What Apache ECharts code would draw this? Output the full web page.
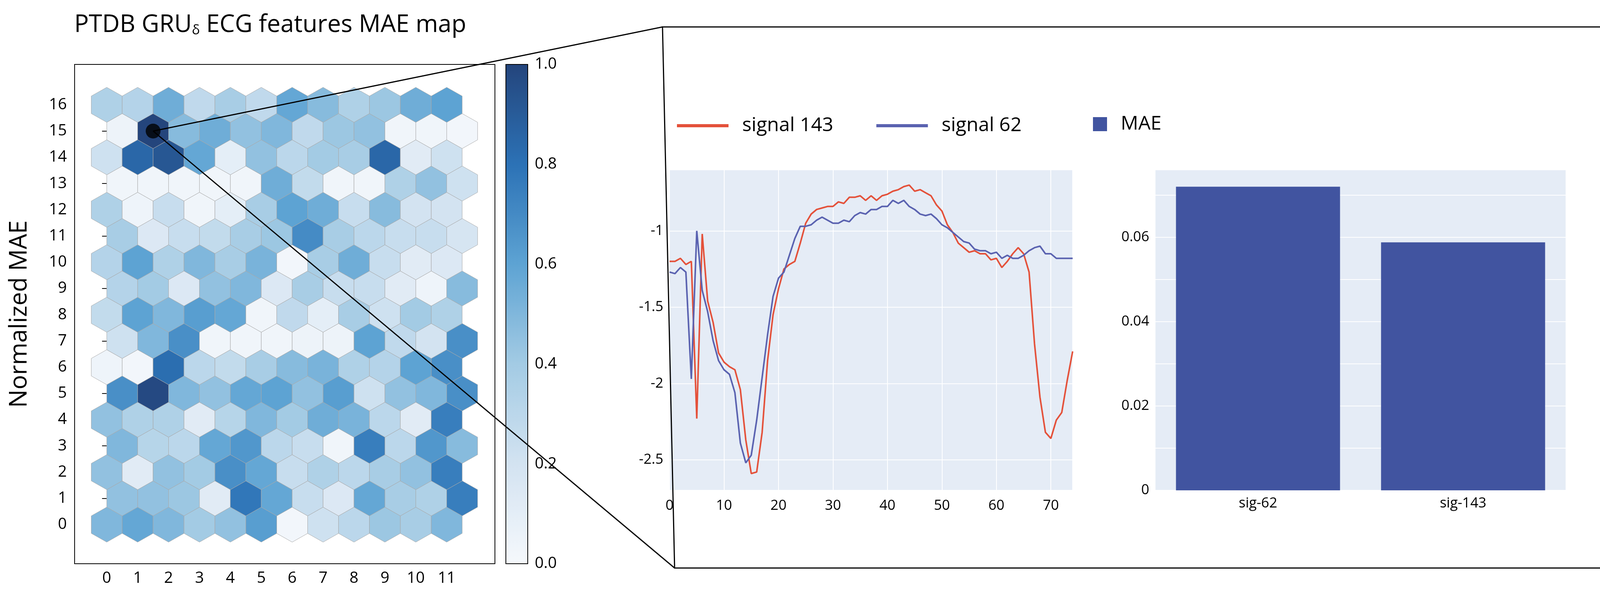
<!DOCTYPE html>
<html lang="en">
<head>
<meta charset="UTF-8">
<title>PTDB GRU ECG features MAE map</title>
<script src="https://cdn.jsdelivr.net/npm/echarts@6/dist/echarts.min.js"></script>
<style>
  html, body { margin: 0; padding: 0; background: #fff; }
  #chart { width: 4168px; height: 1519px; }
</style>
</head>
<body>
<div id="chart"></div>
<script>
// hex map values, one row per y (row 0 first), 12 columns; odd rows are shifted by half a cell
const hexRows = [
  [0.50, 0.58, 0.50, 0.40, 0.45, 0.62, 0.02, 0.22, 0.30, 0.42, 0.38, 0.50],
  [0.45, 0.45, 0.42, 0.12, 0.78, 0.58, 0.25, 0.15, 0.58, 0.38, 0.35, 0.75],
  [0.45, 0.12, 0.45, 0.40, 0.68, 0.58, 0.25, 0.35, 0.30, 0.38, 0.45, 0.75],
  [0.50, 0.32, 0.30, 0.58, 0.65, 0.30, 0.25, 0.03, 0.75, 0.30, 0.65, 0.48],
  [0.45, 0.35, 0.35, 0.12, 0.32, 0.50, 0.40, 0.55, 0.52, 0.30, 0.12, 0.75],
  [0.68, 0.98, 0.50, 0.45, 0.58, 0.60, 0.45, 0.62, 0.22, 0.45, 0.50, 0.68],
  [0.04, 0.02, 0.82, 0.30, 0.27, 0.38, 0.48, 0.52, 0.35, 0.33, 0.60, 0.68],
  [0.22, 0.50, 0.68, 0.03, 0.03, 0.03, 0.05, 0.05, 0.60, 0.28, 0.20, 0.68],
  [0.27, 0.60, 0.50, 0.62, 0.58, 0.03, 0.28, 0.10, 0.38, 0.22, 0.40, 0.35],
  [0.33, 0.40, 0.15, 0.45, 0.50, 0.15, 0.38, 0.25, 0.25, 0.12, 0.04, 0.48],
  [0.33, 0.60, 0.35, 0.50, 0.38, 0.52, 0.02, 0.38, 0.55, 0.25, 0.12, 0.15],
  [0.38, 0.15, 0.25, 0.27, 0.38, 0.42, 0.70, 0.38, 0.30, 0.25, 0.25, 0.18],
  [0.35, 0.04, 0.25, 0.03, 0.10, 0.38, 0.60, 0.55, 0.25, 0.48, 0.20, 0.20],
  [0.03, 0.03, 0.03, 0.03, 0.03, 0.55, 0.27, 0.03, 0.03, 0.35, 0.45, 0.22],
  [0.22, 0.85, 0.92, 0.58, 0.10, 0.45, 0.30, 0.40, 0.38, 0.85, 0.12, 0.22],
  [0.05, 1.00, 0.48, 0.55, 0.45, 0.50, 0.28, 0.42, 0.45, 0.03, 0.03, 0.02],
  [0.35, 0.33, 0.55, 0.28, 0.38, 0.28, 0.58, 0.48, 0.35, 0.42, 0.55, 0.60]
];
const selectedCell = [1.5, 15];
const hexXTicks = [0, 1, 2, 3, 4, 5, 6, 7, 8, 9, 10, 11];
const hexYTicks = [0, 1, 2, 3, 4, 5, 6, 7, 8, 9, 10, 11, 12, 13, 14, 15, 16];

const signal143 = [-1.20, -1.20, -1.18, -1.22, -1.20, -2.23, -1.02, -1.46, -1.60, -1.80,
  -1.86, -1.89, -1.91, -2.04, -2.37, -2.59, -2.58, -2.32, -1.85, -1.55,
  -1.38, -1.25, -1.22, -1.20, -1.08, -0.95, -0.89, -0.86, -0.85, -0.84,
  -0.84, -0.81, -0.82, -0.78, -0.78, -0.77, -0.80, -0.77, -0.80, -0.77,
  -0.76, -0.74, -0.73, -0.71, -0.70, -0.74, -0.73, -0.75, -0.77, -0.83,
  -0.87, -0.96, -1.01, -1.08, -1.11, -1.14, -1.13, -1.15, -1.15, -1.19,
  -1.18, -1.24, -1.20, -1.15, -1.11, -1.15, -1.27, -1.74, -2.09, -2.32,
  -2.36, -2.24, -2.19, -1.98, -1.79];
const signal62 = [-1.27, -1.28, -1.24, -1.27, -1.97, -1.00, -1.39, -1.53, -1.72, -1.85,
  -1.91, -1.94, -2.06, -2.39, -2.52, -2.47, -2.24, -1.96, -1.68, -1.43,
  -1.31, -1.27, -1.16, -1.05, -0.97, -0.97, -0.96, -0.93, -0.91, -0.93,
  -0.95, -0.95, -0.93, -0.94, -0.90, -0.88, -0.89, -0.86, -0.86, -0.84,
  -0.84, -0.80, -0.82, -0.80, -0.84, -0.86, -0.89, -0.90, -0.89, -0.92,
  -0.96, -0.98, -1.01, -1.04, -1.07, -1.08, -1.12, -1.13, -1.13, -1.15,
  -1.14, -1.18, -1.16, -1.18, -1.18, -1.16, -1.13, -1.11, -1.10, -1.15,
  -1.15, -1.18, -1.18, -1.18, -1.18];

const barCategories = ['sig-62', 'sig-143'];
const barValues = [0.072, 0.0588];

const FONT = 'Open Sans';

const hexData = [];
hexRows.forEach(function (row, y) {
  row.forEach(function (v, i) {
    hexData.push([i + (y % 2 ? 0.5 : 0), y, v]);
  });
});

function renderHex(params, api) {
  const cx = api.value(0), cy = api.value(1);
  const offs = [[0, 2 / 3], [0.5, 1 / 3], [0.5, -1 / 3], [0, -2 / 3], [-0.5, -1 / 3], [-0.5, 1 / 3]];
  const pts = offs.map(function (o) { return api.coord([cx + o[0], cy + o[1]]); });
  return {
    type: 'polygon',
    shape: { points: pts },
    style: { fill: api.visual('color'), stroke: '#a8a8a8', lineWidth: 1 }
  };
}

const chart = echarts.init(document.getElementById('chart'));
const axisText = { color: '#000', fontFamily: FONT, fontSize: 40 };
const plotText = { color: '#000', fontFamily: FONT, fontSize: 36 };

chart.setOption({
  animation: false,
  title: {
    text: 'PTDB GRU{sub|δ} ECG features MAE map',
    left: 185, top: 28,
    textStyle: {
      color: '#000', fontFamily: FONT, fontSize: 62, fontWeight: 'normal',
      rich: { sub: { fontSize: 34, fontFamily: FONT, color: '#000', verticalAlign: 'bottom', padding: [28, 0, 0, 0] } }
    }
  },
  legend: [
    {
      data: ['signal 143', 'signal 62'],
      left: 1728, top: 292,
      itemWidth: 132, itemHeight: 8, itemGap: 110,
      icon: 'rect',
      textStyle: { color: '#000', fontFamily: FONT, fontSize: 50, padding: [0, 0, 0, 30] }
    },
    {
      data: ['MAE'],
      left: 2793, top: 288,
      itemWidth: 36, itemHeight: 36, icon: 'rect',
      textStyle: { color: '#000', fontFamily: FONT, fontSize: 50, padding: [0, 0, 0, 30] }
    }
  ],
  visualMap: {
    type: 'continuous',
    seriesIndex: 0,
    dimension: 2,
    min: 0, max: 1,
    left: 1295, top: 165,
    itemWidth: 56, itemHeight: 1279,
    padding: 0,
    text: null,
    showLabel: false,
    calculable: false,
    inRange: { color: ['#f5f8fc', '#d3e3f1', '#a3cbe4', '#5da3d3', '#2c72b6', '#24457c'] }
  },
  grid: [
    { left: 191, top: 165, width: 1076, height: 1279, show: true, borderColor: '#000', borderWidth: 2, backgroundColor: 'transparent' },
    { left: 1295, top: 165, width: 56, height: 1279, show: true, borderColor: '#000', borderWidth: 2, backgroundColor: 'transparent', z: 10 },
    { left: 1714, top: 435, width: 1032, height: 821, show: true, borderWidth: 0, backgroundColor: '#e5ecf6' },
    { left: 2958, top: 435, width: 1050, height: 821, show: true, borderWidth: 0, backgroundColor: '#e5ecf6' }
  ],
  xAxis: [
    {
      gridIndex: 0, type: 'value', min: -1.04, max: 12.56,
      axisLine: { show: false }, splitLine: { show: false },
      axisTick: { show: true, customValues: hexXTicks, length: 12, lineStyle: { color: '#000', width: 2 } },
      axisLabel: Object.assign({ customValues: hexXTicks, margin: 18 }, axisText)
    },
    { gridIndex: 1, type: 'value', show: false, min: 0, max: 1 },
    {
      gridIndex: 2, type: 'value', min: 0, max: 74, interval: 10,
      axisLine: { show: false }, axisTick: { show: false },
      splitLine: { lineStyle: { color: '#fff', width: 2 } },
      axisLabel: Object.assign({ margin: 22, showMaxLabel: false }, plotText)
    },
    {
      gridIndex: 3, type: 'category', data: barCategories,
      axisLine: { show: false }, axisTick: { show: false }, splitLine: { show: false },
      axisLabel: Object.assign({ margin: 16 }, plotText)
    }
  ],
  yAxis: [
    {
      gridIndex: 0, type: 'value', min: -1.49, max: 17.54,
      axisLine: { show: false }, splitLine: { show: false },
      axisTick: { show: true, customValues: hexYTicks, length: 12, lineStyle: { color: '#000', width: 2 } },
      axisLabel: Object.assign({ customValues: hexYTicks, margin: 20 }, axisText),
      name: 'Normalized MAE', nameLocation: 'middle', nameGap: 110,
      nameTextStyle: { color: '#000', fontFamily: FONT, fontSize: 62 }
    },
    {
      gridIndex: 1, type: 'value', position: 'right', min: 0, max: 1, interval: 0.2,
      axisLine: { show: false }, splitLine: { show: false },
      axisTick: { show: true, length: 12, lineStyle: { color: '#000', width: 2 } },
      axisLabel: Object.assign({ margin: 18, formatter: function (v) { return v.toFixed(1); } }, axisText)
    },
    {
      gridIndex: 2, type: 'value', min: -2.7, max: -0.6,
      axisLine: { show: false }, axisTick: { show: false },
      splitLine: { lineStyle: { color: '#fff', width: 2 } },
      axisLabel: Object.assign({
        margin: 16,
        formatter: function (v) {
          const r = Math.round(v * 2) / 2;
          return Math.abs(r - v) < 1e-6 ? String(r) : '';
        }
      }, plotText)
    },
    {
      gridIndex: 3, type: 'value', min: 0, max: 0.076, interval: 0.01,
      axisLine: { show: false }, axisTick: { show: false },
      splitLine: { lineStyle: { color: '#fff', width: 2 } },
      axisLabel: Object.assign({
        margin: 16,
        formatter: function (v) {
          const k = Math.round(v * 100);
          return (Math.abs(v * 100 - k) < 1e-6 && k % 2 === 0) ? String(k / 100) : '';
        }
      }, plotText)
    }
  ],
  series: [
    {
      type: 'custom', xAxisIndex: 0, yAxisIndex: 0,
      renderItem: renderHex, data: hexData,
      encode: { x: 0, y: 1 }
    },
    {
      type: 'scatter', xAxisIndex: 0, yAxisIndex: 0,
      data: [selectedCell], symbolSize: 38,
      itemStyle: { color: '#000' }, z: 5
    },
    {
      name: 'signal 143', type: 'line', xAxisIndex: 2, yAxisIndex: 2,
      data: signal143.map(function (v, i) { return [i, v]; }),
      showSymbol: false, color: '#e4513a', lineStyle: { width: 4 }
    },
    {
      name: 'signal 62', type: 'line', xAxisIndex: 2, yAxisIndex: 2,
      data: signal62.map(function (v, i) { return [i, v]; }),
      showSymbol: false, color: '#5a62b0', lineStyle: { width: 4 }
    },
    {
      name: 'MAE', type: 'bar', xAxisIndex: 3, yAxisIndex: 3,
      data: barValues, color: '#4154a0', barCategoryGap: '20%'
    }
  ]
});

// zoom panel outline and connectors from the selected cell
const dot = chart.convertToPixel({ gridIndex: 0 }, selectedCell);
const panel = [[1696, 69], [4125, 69], [4125, 1455], [1727, 1455]];
chart.setOption({
  graphic: [
    { type: 'polygon', shape: { points: panel }, style: { fill: 'none', stroke: '#000', lineWidth: 3 }, z: 100 },
    { type: 'line', shape: { x1: dot[0], y1: dot[1], x2: panel[0][0], y2: panel[0][1] }, style: { stroke: '#000', lineWidth: 3 }, z: 100 },
    { type: 'line', shape: { x1: dot[0], y1: dot[1], x2: panel[3][0], y2: panel[3][1] }, style: { stroke: '#000', lineWidth: 3 }, z: 100 }
  ]
});
</script>
</body>
</html>
